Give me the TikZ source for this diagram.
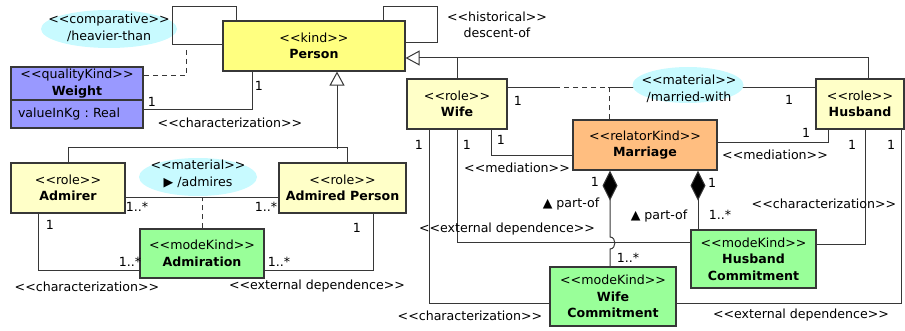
\documentclass[tikz,border=0pt]{standalone}
\usepackage{fontspec}
\setmainfont{DejaVu Sans}[Ligatures=TeXOff]
\usetikzlibrary{arrows.meta,shapes.geometric}
\definecolor{cPerson}{RGB}{255,255,128}
\definecolor{cRole}{RGB}{255,255,200}
\definecolor{cQual}{RGB}{153,153,255}
\definecolor{cRel}{RGB}{255,190,128}
\definecolor{cMode}{RGB}{153,255,153}
\definecolor{cEll}{RGB}{200,250,255}
\definecolor{cLine}{RGB}{55,55,55}
\begin{document}
\frenchspacing
\begin{tikzpicture}[x=1pt,y=-1pt,
  every node/.style={font=\fontsize{12.6}{16.5}\selectfont, inner sep=0pt},
  cls/.style={draw=cLine, line width=1.2pt, align=center},
  ell/.style={ellipse, fill=cEll},
  conn/.style={draw=cLine, line width=1pt},
  dsh/.style={conn, dash pattern=on 5pt off 4pt},
  gen/.style={conn, -{Triangle[open, length=14pt, width=15pt, fill=white]}},
  comp/.style={conn, {Diamond[length=30pt, width=15pt, fill=black]}-},
  lbl/.style={text height=9pt, text depth=0pt}
]
\useasboundingbox (0,0) rectangle (905,331);

% ellipses drawn under connectors
\node[ell, minimum width=136pt, minimum height=38pt] (E1) at (109,29) {};
\node[ell, minimum width=118pt, minimum height=38pt] (E2) at (198,177) {};

% classes
\node[cls, fill=cPerson, minimum width=182pt, minimum height=50pt] (Person) at (314,46) {<<kind>>\\\textbf{Person}};
\node[cls, fill=cQual, minimum width=132pt, minimum height=33pt] (WeightT) at (77,83.5) {<<qualityKind>>\\\textbf{Weight}};
\node[cls, fill=cQual, text width=118pt, inner xsep=7pt, minimum height=28pt, align=left] (WeightA) at (77,114) {valueInKg : Real};
\node[cls, fill=cRole, minimum width=114pt, minimum height=50pt] (Admirer) at (68,188) {<<role>>\\\textbf{Admirer}};
\node[cls, fill=cRole, minimum width=127pt, minimum height=50pt] (AdmiredP) at (342.5,188) {<<role>>\\\textbf{Admired Person}};
\node[cls, fill=cMode, minimum width=124pt, minimum height=49pt] (Admiration) at (202,253.5) {<<modeKind>>\\\textbf{Admiration}};
\node[cls, fill=cRole, minimum width=100pt, minimum height=50pt] (Wife) at (457,104) {<<role>>\\\textbf{Wife}};
\node[cls, fill=cRole, minimum width=88pt, minimum height=50pt] (Husband) at (860,104) {<<role>>\\\textbf{Husband}};
\node[cls, fill=cRel, minimum width=144pt, minimum height=50pt] (Marriage) at (645,145) {<<relatorKind>>\\\textbf{Marriage}};
\node[cls, fill=cMode, minimum width=126pt, minimum height=59pt] (WifeC) at (613,296.5) {<<modeKind>>\\\textbf{Wife}\\\textbf{Commitment}};
\node[cls, fill=cMode, minimum width=125pt, minimum height=58pt] (HusbC) at (753.5,259) {<<modeKind>>\\\textbf{Husband}\\\textbf{Commitment}};

% self loops on Person
\draw[conn] ([yshift=1pt]Person.west) -- ++(-50,0) -- ++(0,-38) -| ([xshift=-78pt]Person.north);
\draw[conn] ([xshift=69pt]Person.north) -- ++(0,-14) -- ++(54,0) |- ([yshift=3pt]Person.east);
\coordinate (cmpEnd) at (186,50);
\draw[dsh] (cmpEnd) |- ([yshift=7.5pt]WeightT.east);
\draw[conn] ([yshift=4pt]WeightA.east) -| ([xshift=-62pt]Person.south);

% generalizations
\draw[conn] (Wife.north) -- ++(0,-21);
\draw[gen] ([xshift=8pt]Husband.north) |- ([yshift=-12pt]Person.east);
\draw[conn] (Admirer.north) -- ++(0,-15) -| ([xshift=4.5pt]AdmiredP.north);
\draw[conn, {Triangle[open, length=14pt, width=15pt, fill=white]}-] ([xshift=23pt]Person.south) -- ++(0,77);

% admiration
\draw[conn] ([yshift=-10pt]Admirer.east) -- ([yshift=-10pt]AdmiredP.west);
\draw[dsh] (Admiration.north) -- ++(0,-31);
\draw[conn] ([xshift=-30pt]Admirer.south) |- ([yshift=-16.5pt]Admiration.west);
\draw[conn] ([xshift=30.5pt]AdmiredP.south) |- ([yshift=-16.5pt]Admiration.east);

% marriage
\draw[conn] ([yshift=16pt]Wife.east) -- ([yshift=16pt]Husband.west);
\draw[white, line width=2pt] (557,88) -- (608,88);
\draw[dsh] ([xshift=-36pt]Marriage.north) -- ++(0,-32) -- ++(-52,0);
\draw[conn] ([xshift=34pt]Wife.south) |- ([yshift=-11pt]Marriage.west);
\draw[conn] ([xshift=-32pt]Husband.south) |- ([yshift=2pt]Marriage.east);
\draw[conn] ([xshift=-28pt]Wife.south) |- ([yshift=-6.5pt]WifeC.west);
\draw[conn] (Wife.south) |- ([yshift=16pt]HusbC.west);
\draw[conn] ([xshift=5pt]Husband.south) |- ([yshift=14pt]HusbC.east);
\draw[conn] ([xshift=41pt]Husband.south) |- ([yshift=-6.5pt]WifeC.east);
\draw[comp] ([xshift=-35pt]Marriage.south) -- (610,237) .. controls (616.5,237) and (616.5,249) .. (610,249) -- ([xshift=-3pt]WifeC.north);
\draw[comp] ([xshift=53pt]Marriage.south) -- ([xshift=-55.5pt]HusbC.north);

% material ellipse married-with (over the line)
\node[ell, minimum width=111pt, minimum height=36pt] (E3) at (688,85) {};

% ellipse texts
\node[align=center] (E1t) at (109,28) {<<comparative>>\\/heavier-than};
\node[align=center] (E2t) at (198,174) {<<material>>\\▶ /admires};
\node[align=center] (E3t) at (689,89) {<<material>>\\/married-with};

% labels
\node[align=center] (Lhist) at (497,25) {<<historical>>\\descent-of};
\node[lbl] (l1) at (152,102) {1};
\node[lbl] (l2) at (259,86) {1};
\node[lbl] (l3) at (230,123) {<<characterization>>};
\node[lbl] (l4) at (137,207) {1..*};
\node[lbl] (l5) at (266,207) {1..*};
\node[lbl] (l6) at (50,225) {1};
\node[lbl] (l7) at (130,262) {1..*};
\node[lbl] (l8) at (279,262) {1..*};
\node[lbl] (l9) at (357,228) {1};
\node[lbl] (l10) at (87,287) {<<characterization>>};
\node[lbl] (l11) at (317,285) {<<external dependence>>};
\node[lbl] (l12) at (518,101) {1};
\node[lbl] (l13) at (789,100) {1};
\node[lbl] (l14) at (419,145) {1};
\node[lbl] (l15) at (467,145) {1};
\node[lbl] (l16) at (501,140) {1};
\node[lbl] (l17) at (806,133) {1};
\node[lbl] (l18) at (852,145) {1};
\node[lbl] (l19) at (891,145) {1};
\node[lbl] (l20) at (517,168) {<<mediation>>};
\node[lbl] (l21) at (775,155) {<<mediation>>};
\node[lbl] (l22) at (595,182) {1};
\node[lbl] (l23) at (571,203) {▲ part-of};
\node[lbl] (l24) at (628,258) {1..*};
\node[lbl] (l25) at (712,183) {1};
\node[lbl] (l26) at (659,215) {▲ part-of};
\node[lbl] (l27) at (720,215) {1..*};
\node[lbl] (l28) at (507,228) {<<external dependence>>};
\node[lbl] (l29) at (824,204) {<<characterization>>};
\node[lbl] (l30) at (470,316) {<<characterization>>};
\node[lbl] (l31) at (801,314) {<<external dependence>>};
\end{tikzpicture}
\end{document}
